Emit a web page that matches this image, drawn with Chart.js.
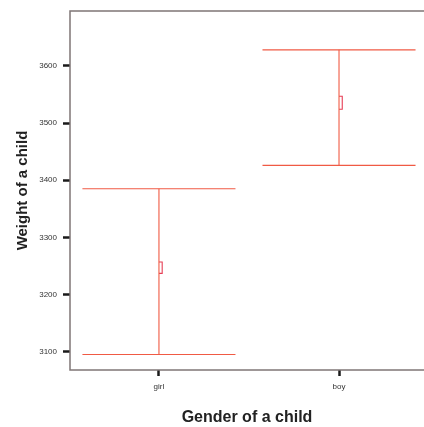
<!DOCTYPE html>
<html>
<head>
<meta charset="utf-8">
<script src="https://cdn.jsdelivr.net/npm/chart.js@4"></script>
<style>
  body { margin: 0; background: #fff; }
  #wrap { width: 424px; height: 427px; }
</style>
</head>
<body>
<div id="wrap"><canvas id="myChart"></canvas></div>
<script>
// values
const genders = ['girl', 'boy'];
const minWeight = [3095, 3426];
const maxWeight = [3385, 3628];
const meanLow = [3237, 3524];
const meanHigh = [3257, 3547];
const yTicks = [3100, 3200, 3300, 3400, 3500, 3600];

const lineColor = '#f05a44';
const meanColor = '#e63e55';
const capHalf = 0.425;
const brW = 0.018;

const datasets = [];
genders.forEach((g, i) => {
  // whisker
  datasets.push({ data: [{x: i, y: minWeight[i]}, {x: i, y: maxWeight[i]}], borderColor: lineColor });
  // caps
  datasets.push({ data: [{x: i - capHalf, y: maxWeight[i]}, {x: i + capHalf, y: maxWeight[i]}], borderColor: lineColor });
  datasets.push({ data: [{x: i - capHalf, y: minWeight[i]}, {x: i + capHalf, y: minWeight[i]}], borderColor: lineColor });
  // small bracket round the mean
  datasets.push({
    data: [{x: i, y: meanLow[i]}, {x: i + brW, y: meanLow[i]}, {x: i + brW, y: meanHigh[i]}, {x: i, y: meanHigh[i]}],
    borderColor: meanColor
  });
});
datasets.forEach(d => {
  d.showLine = true;
  d.pointRadius = 0;
  d.borderWidth = 1.1;
  d.fill = false;
});

// frame round the plot
const frame = {
  id: 'frame',
  afterDraw(chart) {
    const a = chart.chartArea;
    const c = chart.ctx;
    c.save();
    c.strokeStyle = '#7f7676';
    c.lineWidth = 1.5;
    c.strokeRect(a.left, a.top, a.right - a.left + 5, a.bottom - a.top);
    c.restore();
  }
};

new Chart(document.getElementById('myChart'), {
  type: 'scatter',
  data: { datasets: datasets },
  options: {
    responsive: true,
    maintainAspectRatio: false,
    animation: false,
    layout: { padding: { top: 11, right: 0, left: 0, bottom: 0 } },
    plugins: { legend: { display: false }, tooltip: { enabled: false } },
    scales: {
      x: {
        type: 'linear',
        min: -0.494,
        max: 1.472,
        afterBuildTicks: s => { s.ticks = genders.map((g, i) => ({ value: i })); },
        afterFit: s => { s.height = 57; },
        ticks: {
          color: '#333',
          font: { family: 'Liberation Sans', size: 8 },
          padding: 6,
          callback: v => genders[v]
        },
        grid: { drawOnChartArea: false, drawTicks: true, tickLength: 6, tickWidth: 2.5, tickColor: '#1a1a1a' },
        border: { display: false },
        title: {
          display: true,
          text: 'Gender of a child',
          color: '#222',
          font: { family: 'Liberation Sans', size: 16, weight: 'bold' },
          padding: { top: 10, bottom: 0 }
        }
      },
      y: {
        min: 3068,
        max: 3696,
        afterBuildTicks: s => { s.ticks = yTicks.map(v => ({ value: v })); },
        afterFit: s => { s.width = 70; },
        ticks: {
          color: '#333',
          font: { family: 'Liberation Sans', size: 8 },
          padding: 6,
          callback: v => String(v)
        },
        grid: { drawOnChartArea: false, drawTicks: true, tickLength: 7, tickWidth: 2.5, tickColor: '#1a1a1a' },
        border: { display: false },
        title: {
          display: true,
          text: 'Weight of a child',
          color: '#222',
          font: { family: 'Liberation Sans', size: 15, weight: 'bold' },
          padding: { top: 14, bottom: 4 }
        }
      }
    }
  },
  plugins: [frame]
});
</script>
</body>
</html>
